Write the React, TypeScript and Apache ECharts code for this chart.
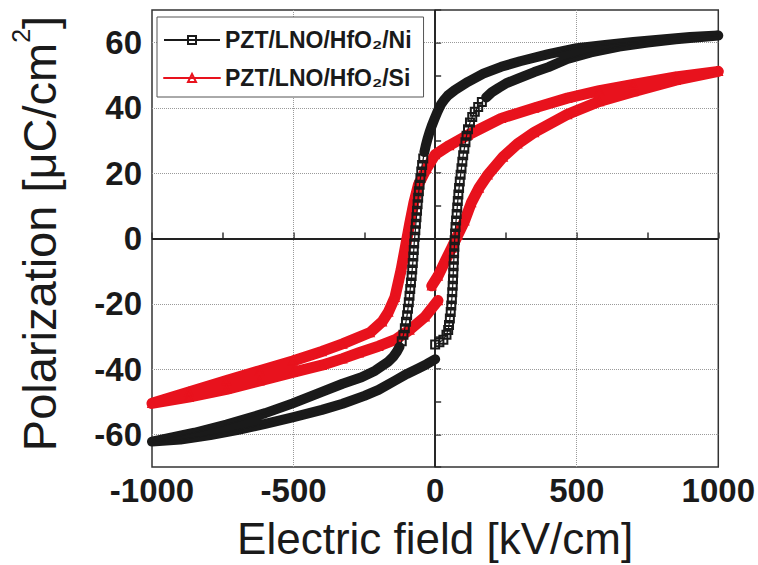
import React, { useEffect, useRef } from 'react';
import * as echarts from 'echarts';

type Pt = [number, number];

const NAME_NI = 'PZT/LNO/HfO₂/Ni';
const NAME_SI = 'PZT/LNO/HfO₂/Si';

// Black loop (Ni): initial rise from E=0, descending branch, return branch
const blackUp: Pt[] = [
  [0, -32.5], [15, -31.8], [29, -31], [40, -29.5], [46, -28], [49, -26.5], [52, -24.5], [55, -22.5],
  [57, -20.5], [59, -18.5], [60.5, -16.5], [62, -14.5], [63, -12.5], [64, -10.5], [65, -8.5], [66, -6.5],
  [67, -4.5], [68, -2.5], [69, -0.5], [70.5, 1.5], [72, 3.5], [74, 5.5], [76, 7.5], [78, 9.5], [80, 11.5],
  [82, 13.5], [84.5, 15.5], [87, 17.5], [90, 19.5], [93, 21.5], [96, 23.5], [99, 25.5], [103, 27.5],
  [107, 29.5], [111, 31.5], [116, 33.5], [123, 35.5], [131, 37.2], [140, 38.8], [152, 40.3], [165, 41.8],
  [180, 43.2], [200, 44.8], [225, 46.2], [250, 47.5], [292, 49], [350, 51], [400, 52.5], [467, 55],
  [550, 57], [650, 58.8], [750, 60], [850, 61], [1000, 62.2],
];
const blackDown: Pt[] = [
  [1000, 62.2], [900, 61.7], [800, 61], [700, 60.2], [600, 59.3], [500, 58.3], [400, 56.5], [300, 54.3],
  [233, 52.6], [170, 50.5], [116, 48], [70, 45.5], [45, 43.8], [33, 42.6], [20, 41], [8, 38.8], [-3, 36.5],
  [-12, 34.5], [-20, 32.5], [-27, 30.5], [-33, 28.5], [-38, 26.5], [-42, 24.5], [-46, 22.5], [-49, 20.5],
  [-52, 18.5], [-55, 16.5], [-57.5, 14.5], [-60, 12.5], [-62, 10.5], [-64, 8.5], [-66, 6.5], [-68, 4.5],
  [-70, 2.5], [-72, 0.5], [-74, -1.5], [-75.5, -3.5], [-77, -5.5], [-79, -7.5], [-81, -9.5], [-83, -11.5],
  [-85.5, -13.5], [-88, -15.5], [-90.5, -17.5], [-93, -19.5], [-96, -21.5], [-99, -23.5], [-103, -25.5],
  [-107, -27.5], [-112, -29.5], [-118, -31.5], [-126, -33.2], [-136, -34.8], [-148, -36.2], [-165, -37.7],
  [-190, -39.2], [-212, -40.5], [-260, -42.5], [-327, -44.5], [-400, -47], [-503, -50.5], [-600, -53.5],
  [-737, -57], [-850, -59.5], [-1000, -62.2],
];
const blackBack: Pt[] = [
  [-1000, -62.2], [-900, -61.6], [-794, -60.2], [-700, -58.7], [-600, -56.8], [-500, -54.7], [-400, -52.5],
  [-327, -50.6], [-250, -48.2], [-200, -46.4], [-141, -43.5], [-100, -41.5], [-60, -39.8], [-30, -38.5], [0, -37],
];

// Red loop (Si)
const redUp: Pt[] = [
  [-12, -14.5], [10, -11.5], [35, -7], [58, -3], [80, 1], [104, 5.4], [128, 11], [155, 15.5], [186, 19.5],
  [240, 25], [291, 29], [350, 32.5], [467, 38], [580, 42], [700, 45], [850, 48.5], [1000, 51.2],
];
const redDown: Pt[] = [
  [1000, 51.2], [850, 49.5], [700, 47.2], [580, 45.3], [467, 43], [350, 40], [233, 36.8], [116, 31.7],
  [50, 28.5], [0, 25.7], [-30, 21.5], [-59, 16.5], [-75, 11], [-90, 4.5], [-105, -2.5], [-120, -9.5],
  [-142, -18], [-165, -22.5], [-187, -25.5], [-230, -28.8], [-327, -32.3], [-400, -34.6], [-503, -37.5],
  [-620, -40.5], [-737, -43.5], [-870, -47], [-1000, -50.5],
];
const redBack: Pt[] = [
  [-1000, -50.5], [-870, -48.6], [-737, -46.2], [-620, -43.6], [-503, -41], [-400, -38.8], [-327, -36.8],
  [-269, -35], [-200, -33], [-141, -31], [-90, -28], [-36, -24], [10, -19],
];

// P ranges in which the black band opens up into separate squares
const upOpenRange: [number, number] = [-33, 42];
const downOpenRange: [number, number] = [-33, 26];

const gridX = [-500, 500];
const gridY = [-60, -40, -20, 20, 40, 60];

const FONT = 'Liberation Sans, Arial, sans-serif';
const BLACK = '#1a1a1a';
const RED = '#e8121d';

const isOpen = (p: Pt, range: [number, number] | null) => !!range && p[1] > range[0] && p[1] < range[1];

function band(points: Pt[], range: [number, number] | null): (Pt | [number, string])[] {
  return points.map((p) => (isOpen(p, range) ? [p[0], '-'] : p));
}
function markers(points: Pt[], range: [number, number] | null) {
  return points.map((p) => (isOpen(p, range) ? { value: p } : { value: p, symbol: 'none' }));
}

export default function App() {
  const ref = useRef<HTMLDivElement>(null);
  useEffect(() => {
    document.body.style.margin = '0';
    if (!ref.current) return;
    const chart = echarts.init(ref.current, undefined, { renderer: 'svg' });

    const blackMarkers = [
      ...markers(blackUp, upOpenRange),
      ...markers(blackDown, downOpenRange).slice(1),
      ...markers(blackBack, null).slice(1),
    ];
    const blackBand = [
      ...band(blackUp, upOpenRange),
      ...band(blackDown, downOpenRange).slice(1),
      ...band(blackBack, null).slice(1),
    ];
    const redLoop = [...redUp, ...redDown.slice(1), ...redBack.slice(1)];

    chart.setOption({
      animation: false,
      backgroundColor: '#ffffff',
      grid: {
        left: 148, top: 10, width: 571, height: 459,
        show: true, borderColor: '#333', borderWidth: 1.5, backgroundColor: 'transparent',
      },
      legend: {
        data: [NAME_NI, NAME_SI],
        orient: 'vertical',
        left: 157, top: 17,
        itemWidth: 56, itemHeight: 10, itemGap: 12,
        padding: [10, 12, 6, 6],
        borderColor: '#555', borderWidth: 1,
        backgroundColor: '#fff',
        lineStyle: { width: 2 },
        selectedMode: false,
        textStyle: {
          color: BLACK, fontFamily: FONT, fontSize: 23, fontWeight: 'bold', lineHeight: 26,
        },
      },
      xAxis: {
        type: 'value', min: -1000, max: 1000, interval: 250,
        name: 'Electric field [kV/cm]',
        nameLocation: 'middle', nameGap: 49,
        nameTextStyle: { fontSize: 44, fontFamily: FONT, color: BLACK },
        axisLine: { show: true, lineStyle: { color: '#333', width: 1.5 } },
        axisTick: { show: true, inside: true, length: 6, lineStyle: { color: '#333', width: 1.5 } },
        axisLabel: {
          margin: 7, fontSize: 33, fontWeight: 'bold', fontFamily: FONT, color: BLACK,
          formatter: (v: number) => (v % 500 === 0 ? String(v) : ''),
        },
        splitLine: { show: false },
      },
      yAxis: {
        type: 'value', min: -70, max: 70, interval: 10,
        name: '{m|Polarization [μC/cm}{p|2}{m|]}',
        nameLocation: 'middle', nameGap: 82, nameRotate: 90,
        nameTextStyle: {
          fontFamily: FONT, color: BLACK, padding: [0, 0, 0, 10],
          rich: {
            m: { fontSize: 47, lineHeight: 62, fontFamily: FONT, color: BLACK },
            p: { fontSize: 25, lineHeight: 10, verticalAlign: 'top', fontFamily: FONT, color: BLACK },
          },
        },
        axisLine: { show: true, lineStyle: { color: '#333', width: 1.5 } },
        axisTick: { show: true, inside: true, length: 6, lineStyle: { color: '#333', width: 1.5 } },
        axisLabel: {
          margin: 10, fontSize: 33, fontWeight: 'bold', fontFamily: FONT, color: BLACK,
          formatter: (v: number) => (v % 20 === 0 ? String(v) : ''),
        },
        splitLine: { show: false },
      },
      series: [
        {
          name: NAME_SI,
          type: 'line',
          data: redLoop,
          z: 2,
          symbol: 'triangle', symbolSize: 8, showSymbol: true,
          itemStyle: { color: 'rgba(0,0,0,0)', borderColor: RED, borderWidth: 1.5 },
          lineStyle: { color: RED, width: 11, join: 'round', cap: 'round' },
          emphasis: { disabled: true },
          markLine: {
            silent: true, symbol: 'none', z: 1, animation: false,
            label: { show: false },
            emphasis: { disabled: true },
            lineStyle: { color: '#9a9a9a', type: 'dotted', width: 1 },
            data: [
              ...gridX.map((v) => ({ xAxis: v })),
              ...gridY.map((v) => ({ yAxis: v })),
              { xAxis: 0, lineStyle: { color: '#222', type: 'solid', width: 1.8 } },
              { yAxis: 0, lineStyle: { color: '#222', type: 'solid', width: 1.8 } },
            ],
          },
        },
        {
          name: NAME_NI,
          type: 'line',
          data: blackMarkers,
          z: 4,
          symbol: 'rect', symbolSize: 8, showSymbol: true,
          itemStyle: { color: 'rgba(0,0,0,0)', borderColor: BLACK, borderWidth: 2 },
          lineStyle: { color: BLACK, width: 1.2 },
          emphasis: { disabled: true },
        },
        {
          name: NAME_NI,
          type: 'line',
          data: blackBand,
          z: 3,
          showSymbol: false, symbol: 'none',
          connectNulls: false,
          lineStyle: { color: BLACK, width: 10, join: 'round', cap: 'round' },
          itemStyle: { color: BLACK },
          emphasis: { disabled: true },
        },
      ],
    });
    return () => chart.dispose();
  }, []);
  return <div ref={ref} style={{ width: 758, height: 565 }} />;
}
